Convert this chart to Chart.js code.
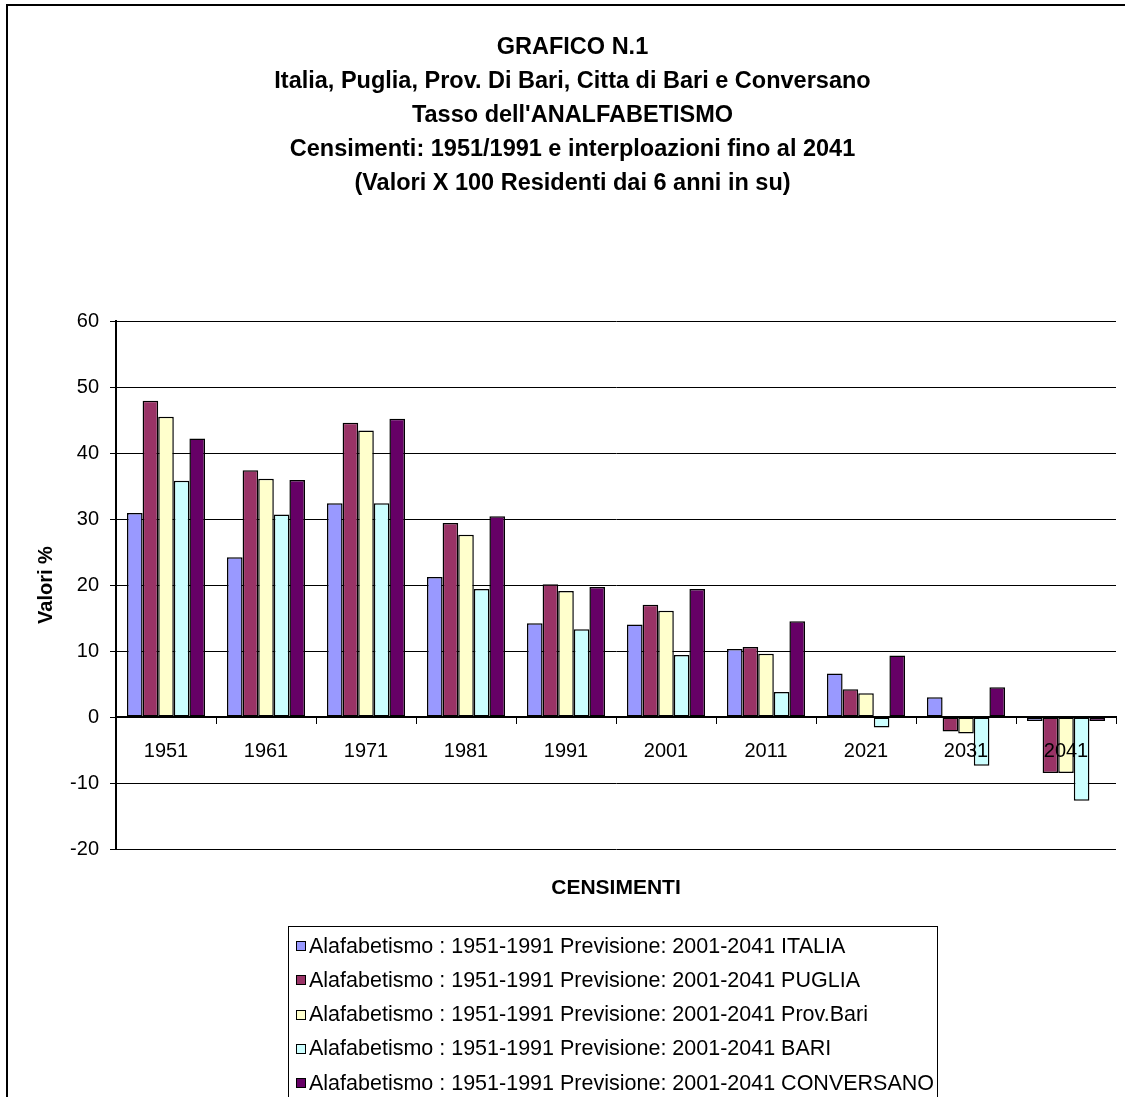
<!DOCTYPE html>
<html>
<head>
<meta charset="utf-8">
<script src="https://cdn.jsdelivr.net/npm/chart.js@4.4.1/dist/chart.umd.min.js"></script>
<style>
  html, body { margin: 0; padding: 0; background: #fff; overflow: hidden; }
  body { width: 1125px; height: 1097px; position: relative; font-family: "Liberation Sans", Arial, sans-serif; color: #000; }
  #frame { position: absolute; left: 6px; top: 4px; width: 1300px; height: 1300px; border: 2px solid #000; box-sizing: border-box; }
  #chart { position: absolute; left: 0; top: 0; }
  #title { position: absolute; left: 0; top: 29px; width: 1145px; text-align: center; font-weight: bold; font-size: 23.5px; line-height: 34px; }
  #xTitle { position: absolute; left: 116px; width: 1000px; top: 874px; text-align: center; font-weight: bold; font-size: 21px; line-height: 26px; }
  #legend { position: absolute; left: 288px; top: 926px; width: 650px; height: 200px; border: 1px solid #000; box-sizing: border-box; padding-top: 2px; }
  .row { height: 34.25px; display: flex; align-items: center; font-size: 21.5px; white-space: nowrap; }
  .box { width: 8px; height: 8px; border: 1px solid #000; margin: 0 3px 0 7px; }
</style>
</head>
<body>
<div id="frame"></div>
<canvas id="chart" width="1125" height="1097"></canvas>
<div id="title">GRAFICO N.1<br>Italia, Puglia, Prov. Di Bari, Citta di Bari e Conversano<br>Tasso dell'ANALFABETISMO<br>Censimenti: 1951/1991 e interploazioni fino al 2041<br>(Valori X 100 Residenti dai 6 anni in su)</div>
<div id="xTitle">CENSIMENTI</div>
<div id="legend"></div>
<script>
const years = ['1951', '1961', '1971', '1981', '1991', '2001', '2011', '2021', '2031', '2041'];
const italia = [30.9, 24.2, 32.4, 21.2, 14.2, 14.0, 10.3, 6.6, 3.0, -0.6];
const puglia = [47.9, 37.4, 44.6, 29.4, 20.1, 17.0, 10.6, 4.2, -2.2, -8.5];
const provBari = [45.5, 36.1, 43.4, 27.6, 19.1, 16.1, 9.6, 3.6, -2.5, -8.5];
const bari = [35.8, 30.7, 32.4, 19.4, 13.3, 9.4, 3.8, -1.6, -7.4, -12.7];
const conversano = [42.2, 35.9, 45.2, 30.4, 19.7, 19.4, 14.5, 9.3, 4.5, -0.6];

const prefix = 'Alafabetismo : 1951-1991 Previsione: 2001-2041 ';
const series = [
  { name: 'ITALIA', values: italia, color: '#9999FF' },
  { name: 'PUGLIA', values: puglia, color: '#993366' },
  { name: 'Prov.Bari', values: provBari, color: '#FFFFCC' },
  { name: 'BARI', values: bari, color: '#CCFFFF' },
  { name: 'CONVERSANO', values: conversano, color: '#660066' },
];

const fontFamily = '"Liberation Sans", Arial, sans-serif';

const datasets = series.map((s) => ({
  label: prefix + s.name,
  data: s.values,
  backgroundColor: s.color,
  borderColor: '#000',
  borderWidth: 1.5,
  borderSkipped: false,
  categoryPercentage: 0.78,
  barPercentage: 1.0,
}));

new Chart(document.getElementById('chart'), {
  type: 'bar',
  data: { labels: years, datasets },
  options: {
    responsive: false,
    animation: false,
    layout: { padding: { top: 321, bottom: 248, left: 0, right: 9 } },
    plugins: { legend: { display: false }, tooltip: { enabled: false } },
    scales: {
      x: {
        position: { y: 0 },
        offset: true,
        grid: { display: true, drawOnChartArea: false, drawTicks: true, tickLength: 6, color: '#000', lineWidth: 1, offset: true },
        border: { display: true, color: '#000', width: 2 },
        // labels sit on top of the bars, as in the original
        ticks: { z: 1, color: '#000', padding: 16, font: { family: fontFamily, size: 20 }, maxRotation: 0 },
      },
      y: {
        min: -20,
        max: 60,
        afterFit: (scale) => { scale.width = 116; },
        grid: { color: '#000', lineWidth: 1, tickLength: 6 },
        border: { display: true, color: '#000', width: 2 },
        ticks: { stepSize: 10, color: '#000', padding: 11, font: { family: fontFamily, size: 20 } },
        title: {
          display: true,
          text: 'Valori %',
          color: '#000',
          padding: { top: 34, bottom: 0 },
          font: { family: fontFamily, size: 20, weight: 'bold' },
        },
      },
    },
  },
});

const legendEl = document.getElementById('legend');
series.forEach((s) => {
  const row = document.createElement('div');
  row.className = 'row';
  const box = document.createElement('span');
  box.className = 'box';
  box.style.background = s.color;
  const text = document.createElement('span');
  text.textContent = prefix + s.name;
  row.append(box, text);
  legendEl.append(row);
});
</script>
</body>
</html>
